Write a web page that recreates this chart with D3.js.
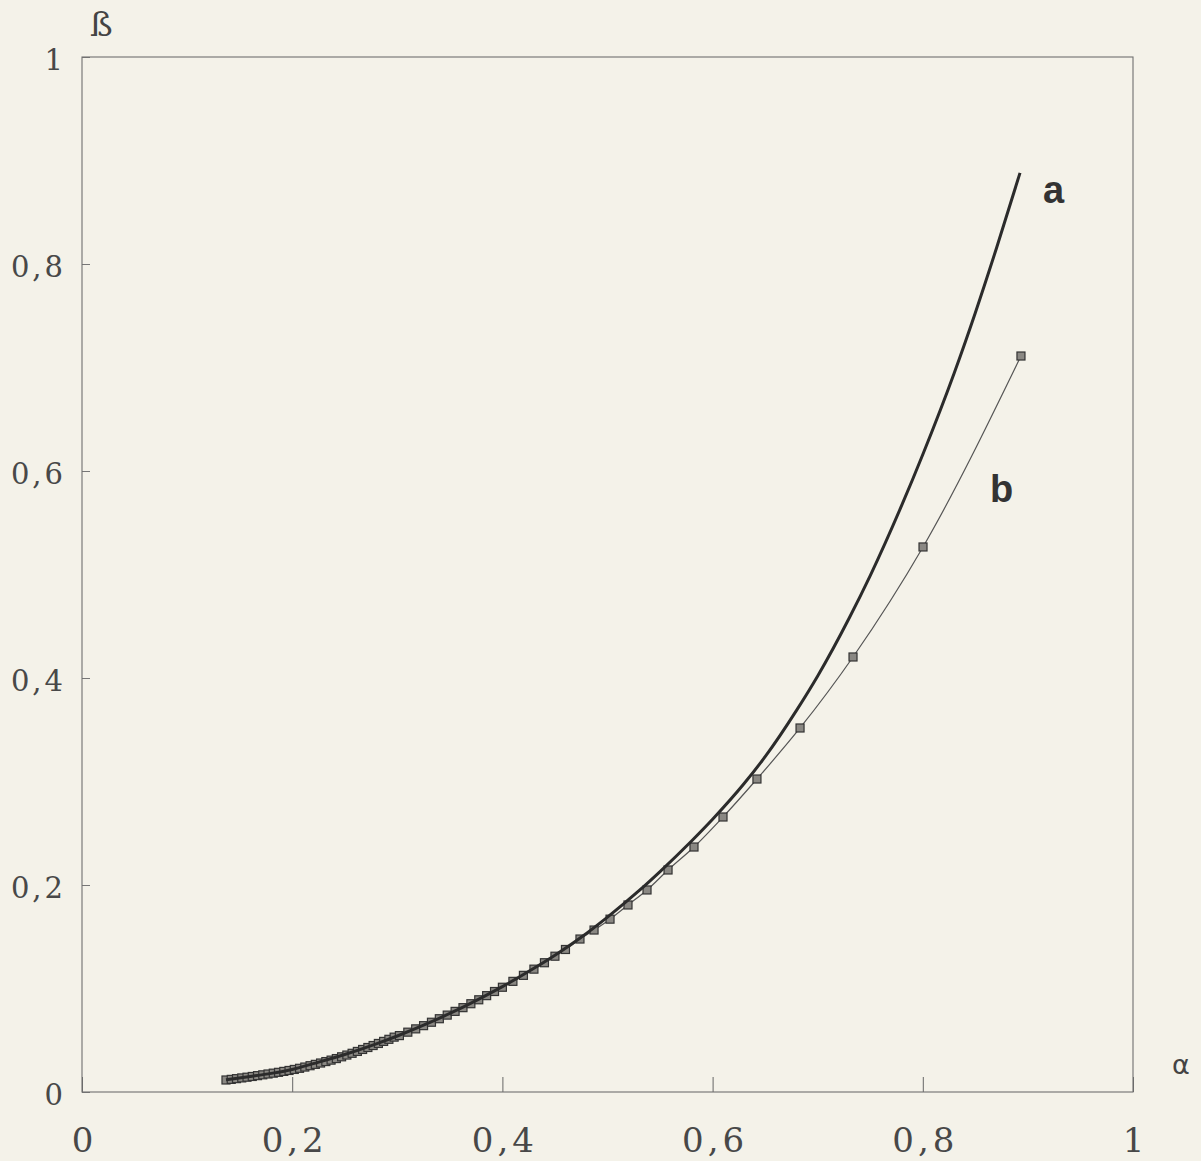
<!DOCTYPE html>
<html>
<head>
<meta charset="utf-8">
<script src="https://cdn.jsdelivr.net/npm/d3@7"></script>
<style>
  body { margin: 0; background: #f4f2e9; }
  svg { display: block; }
</style>
</head>
<body>
<script>
// ========== Data ==========
// Curve a (thick line): alpha values and beta values.
var alphaA = [0.137, 0.16, 0.18, 0.20, 0.22, 0.25, 0.28, 0.30, 0.33, 0.35,
  0.38, 0.40, 0.43, 0.45, 0.474, 0.50, 0.53, 0.55, 0.58, 0.60, 0.63, 0.65,
  0.68, 0.70, 0.73, 0.75, 0.78, 0.80, 0.83, 0.85, 0.87, 0.8925];
var betaA = [0.0118, 0.0150, 0.0180, 0.0218, 0.0274, 0.0362, 0.0465, 0.0541,
  0.0667, 0.0759, 0.0910, 0.1018, 0.1195, 0.1322, 0.1488, 0.1690, 0.1945,
  0.2130, 0.2425, 0.2635, 0.2980, 0.3240, 0.3690, 0.4020, 0.4580, 0.4990,
  0.5670, 0.6160, 0.6950, 0.7530, 0.8150, 0.8880];

// Curve b (thin line with square markers).
var alphaB = [0.137, 0.142, 0.147, 0.152, 0.157, 0.162, 0.167, 0.172, 0.177,
  0.182, 0.187, 0.192, 0.197, 0.202, 0.207, 0.212, 0.217, 0.222, 0.227, 0.232,
  0.237, 0.242, 0.247, 0.252, 0.257, 0.262, 0.267, 0.272, 0.277, 0.282, 0.287,
  0.292, 0.297, 0.302, 0.31, 0.3175, 0.325, 0.3325, 0.34, 0.3475, 0.355,
  0.3625, 0.37, 0.3775, 0.385, 0.3925, 0.40, 0.41, 0.42, 0.43, 0.44, 0.45,
  0.46, 0.4738, 0.4872, 0.5024, 0.5195, 0.5376, 0.5576, 0.5823, 0.6099,
  0.6422, 0.6832, 0.7336, 0.8002, 0.8934];
var betaB = [0.0116, 0.0122, 0.0129, 0.0136, 0.0143, 0.0150, 0.0158, 0.0166,
  0.0174, 0.0182, 0.0190, 0.0199, 0.0208, 0.0218, 0.0229, 0.0241, 0.0254,
  0.0267, 0.0280, 0.0294, 0.0308, 0.0323, 0.0340, 0.0357, 0.0374, 0.0392,
  0.0411, 0.0430, 0.0449, 0.0469, 0.0489, 0.0509, 0.0530, 0.0545, 0.0578,
  0.0610, 0.0641, 0.0674, 0.0708, 0.0743, 0.0779, 0.0815, 0.0853, 0.0891,
  0.0931, 0.0971, 0.1012, 0.1069, 0.1127, 0.1187, 0.1249, 0.1312, 0.1377,
  0.1478, 0.1565, 0.1670, 0.1807, 0.1952, 0.2145, 0.2367, 0.2657, 0.3024,
  0.3517, 0.4203, 0.5266, 0.7111];

// Axis ticks.
var xTicks = [0, 0.2, 0.4, 0.6, 0.8, 1];
var yTicks = [0, 0.2, 0.4, 0.6, 0.8, 1];
// ==============================================

var W = 1201, H = 1161;
// frame edges in pixels (note: "top" is taken by window.top)
var frameL = 82, frameR = 1133, frameT = 57, frameB = 1092;

var svg = d3.select("body").append("svg")
  .attr("width", W)
  .attr("height", H);

// paper background
svg.append("rect")
  .attr("width", W).attr("height", H)
  .attr("fill", "#f4f2e9");

var x = d3.scaleLinear().domain([0, 1]).range([frameL, frameR]);
var y = d3.scaleLinear().domain([0, 1]).range([frameB, frameT]);

function commaFmt(d) { return String(d).replace(".", ","); }

// X axis, ticks pointing inward
var gx = svg.append("g")
  .attr("transform", "translate(0," + frameB + ")")
  .call(d3.axisBottom(x).tickValues(xTicks).tickSize(-15).tickPadding(36)
    .tickFormat(commaFmt));
gx.select(".domain").remove();
gx.selectAll(".tick line").attr("stroke", "#666").attr("stroke-width", 1);
gx.selectAll(".tick text")
  .attr("font-family", "DejaVu Serif")
  .attr("font-size", 34)
  .attr("letter-spacing", 4)
  .attr("dx", 2)
  .attr("fill", "#484848");

// Y axis
var gy = svg.append("g")
  .attr("transform", "translate(" + frameL + ",0)")
  .call(d3.axisLeft(y).tickValues(yTicks).tickSize(-8).tickPadding(16)
    .tickFormat(commaFmt));
gy.select(".domain").remove();
gy.selectAll(".tick line").attr("stroke", "#777").attr("stroke-width", 1);
gy.selectAll(".tick text")
  .attr("font-family", "DejaVu Serif")
  .attr("font-size", 29)
  .attr("letter-spacing", 3)
  .attr("dy", "0.42em")
  .attr("fill", "#484848");

// plot frame
svg.append("rect")
  .attr("x", frameL).attr("y", frameT)
  .attr("width", frameR - frameL).attr("height", frameB - frameT)
  .attr("fill", "none")
  .attr("stroke", "#707070")
  .attr("stroke-width", 1.1);

// Curve b first, so that a sits on top
var dataB = alphaB.map(function(d, i) { return [d, betaB[i]]; });
var dataA = alphaA.map(function(d, i) { return [d, betaA[i]]; });

var line = d3.line()
  .x(function(d) { return x(d[0]); })
  .y(function(d) { return y(d[1]); })
  .curve(d3.curveMonotoneX);

svg.append("path")
  .datum(dataB)
  .attr("d", line)
  .attr("fill", "none")
  .attr("stroke", "#555")
  .attr("stroke-width", 1.2);

var ms = 8;
svg.selectAll(".mark")
  .data(dataB)
  .enter().append("rect")
  .attr("class", "mark")
  .attr("x", function(d) { return x(d[0]) - ms / 2; })
  .attr("y", function(d) { return y(d[1]) - ms / 2; })
  .attr("width", ms).attr("height", ms)
  .attr("fill", "#8a8883")
  .attr("stroke", "#333")
  .attr("stroke-width", 1.2);

svg.append("path")
  .datum(dataA)
  .attr("d", line)
  .attr("fill", "none")
  .attr("stroke", "#2b2b2b")
  .attr("stroke-width", 3);

// curve labels
svg.append("text")
  .attr("x", 1043).attr("y", 203)
  .attr("font-family", "Liberation Sans")
  .attr("font-weight", "bold")
  .attr("font-size", 38)
  .attr("fill", "#333")
  .text("a");
svg.append("text")
  .attr("x", 990).attr("y", 502)
  .attr("font-family", "Liberation Sans")
  .attr("font-weight", "bold")
  .attr("font-size", 38)
  .attr("fill", "#333")
  .text("b");

// axis names
svg.append("text")
  .attr("x", 90).attr("y", 36)
  .attr("font-family", "DejaVu Serif")
  .attr("font-size", 34)
  .attr("fill", "#444")
  .text("ß");
svg.append("text")
  .attr("x", 1172).attr("y", 1074)
  .attr("font-family", "DejaVu Sans")
  .attr("font-size", 27)
  .attr("fill", "#444")
  .text("α");
</script>
</body>
</html>
